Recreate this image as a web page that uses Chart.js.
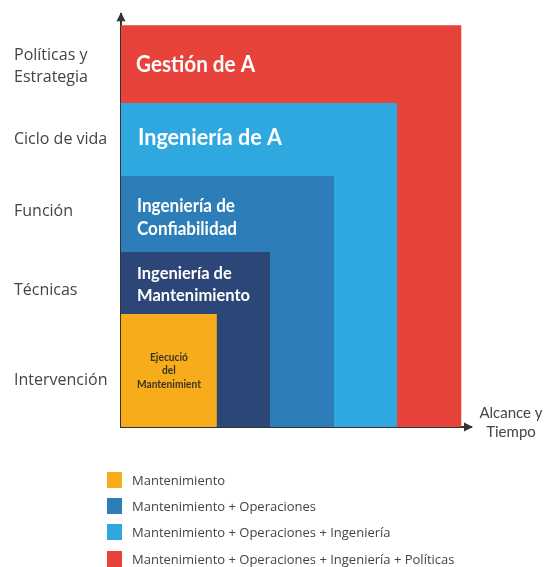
<!DOCTYPE html>
<html>
<head>
<meta charset="utf-8">
<script src="https://cdn.jsdelivr.net/npm/chart.js@4.4.1/dist/chart.umd.min.js"></script>
<style>
  html, body { margin: 0; padding: 0; background: #fff; }
  #wrap { position: relative; width: 546px; height: 567px; }
  #legend { position: absolute; left: 107px; top: 0; font: 13px "Open Sans", sans-serif; color: #444; }
  #legend .sw { position: absolute; left: 0; width: 15px; height: 16px; }
  #legend .tx { position: absolute; left: 25px; line-height: 16px; white-space: nowrap; }
</style>
</head>
<body>
<div id="wrap">
  <canvas id="chart" width="546" height="567"></canvas>
  <div id="legend"></div>
</div>
<script>
// niveles, del más interno al más externo
const niveles = ["Ejecución del Mantenimiento", "Ingeniería de Mantenimiento", "Ingeniería de Confiabilidad", "Ingeniería de A", "Gestión de A"];
const textoNiveles = [["Ejecució", "del", "Mantenimient"], ["Ingeniería de", "Mantenimiento"], ["Ingeniería de", "Confiabilidad"], ["Ingeniería de A"], ["Gestión de A"]];
const alcance = [27.4, 42.6, 60.9, 78.9, 97.3];
const altura = [27.4, 42.4, 60.8, 78.5, 97.3];

const yTickValues = [87.3, 69.7, 52.1, 33.2, 11.4];
const yTickLabels = [["Políticas y", "Estrategia"], "Ciclo de vida", "Función", "Técnicas", "Intervención"];

const legendLabels = ["Mantenimiento", "Mantenimiento + Operaciones", "Mantenimiento + Operaciones + Ingeniería", "Mantenimiento + Operaciones + Ingeniería + Políticas"];

const colores = ["#F7AD1B", "#2B4677", "#2D7DB8", "#2FA7DF", "#E7433A"];
const legendColors = ["#F7AD1B", "#2D7DB8", "#2FA7DF", "#E7433A"];
const legendTops = [472, 498, 524, 551];

// estilo de las etiquetas de cada bloque (desplazamiento desde la esquina sup. izq., ancho de la línea más larga)
const labelStyle = [
  { size: 11, color: "#3d3220", center: true, dy: 47, lh: 13.5, w: 64 },
  { size: 17.5, color: "#fff", dx: 16, dy: 27, lh: 22, w: 113 },
  { size: 18, color: "#fff", dx: 16, dy: 36, lh: 23, w: 100 },
  { size: 22.5, color: "#fff", dx: 17, dy: 42, lh: 24, w: 144 },
  { size: 22.5, color: "#fff", dx: 15, dy: 47, lh: 24, w: 119 }
];

const datasets = niveles.map((n, i) => ({
  label: n,
  data: [{ x: 0, y: altura[i] }, { x: alcance[i], y: altura[i] }],
  backgroundColor: colores[i],
  borderColor: colores[i],
  borderWidth: 0,
  pointRadius: 0,
  fill: "origin",
  tension: 0
}));

const decor = {
  id: "decor",
  afterDatasetsDraw(chart) {
    const { ctx, scales: { x, y } } = chart;
    ctx.save();
    ctx.textBaseline = "alphabetic";
    niveles.forEach((n, i) => {
      const s = labelStyle[i];
      const lines = textoNiveles[i];
      const left = x.getPixelForValue(0);
      const right = x.getPixelForValue(alcance[i]);
      const top = y.getPixelForValue(altura[i]);
      ctx.font = `bold ${s.size}px Lato, sans-serif`;
      ctx.fillStyle = s.color;
      ctx.textAlign = s.center ? "center" : "left";
      const widest = Math.max(...lines.map(l => ctx.measureText(l).width));
      const k = s.w / widest;
      const tx = s.center ? (left + right) / 2 : left + s.dx;
      lines.forEach((line, j) => {
        ctx.save();
        ctx.translate(tx, top + s.dy + j * s.lh);
        ctx.scale(k, 1);
        ctx.fillText(line, 0, 0);
        ctx.restore();
      });
    });
    ctx.restore();
  },
  afterDraw(chart) {
    const { ctx, chartArea: a } = chart;
    ctx.save();
    ctx.fillStyle = "#333";
    ctx.beginPath();
    ctx.moveTo(a.left, a.top - 2);
    ctx.lineTo(a.left - 4.5, a.top + 7);
    ctx.lineTo(a.left + 4.5, a.top + 7);
    ctx.closePath();
    ctx.fill();
    ctx.beginPath();
    ctx.moveTo(a.right + 2, a.bottom);
    ctx.lineTo(a.right - 7, a.bottom - 4.5);
    ctx.lineTo(a.right - 7, a.bottom + 4.5);
    ctx.closePath();
    ctx.fill();
    ctx.font = "15px Lato, sans-serif";
    ctx.fillStyle = "#444";
    ctx.textAlign = "center";
    ctx.textBaseline = "middle";
    ctx.fillText("Alcance y", a.right + 40, a.bottom - 14);
    ctx.fillText("Tiempo", a.right + 40, a.bottom + 5);
    ctx.restore();
  }
};

new Chart(document.getElementById("chart"), {
  type: "line",
  data: { datasets },
  options: {
    responsive: false,
    animation: false,
    layout: { padding: { left: 14, top: 14, right: 75, bottom: 140 } },
    plugins: { legend: { display: false }, tooltip: { enabled: false } },
    scales: {
      x: {
        type: "linear", min: 0, max: 100, z: 1,
        grid: { display: false, drawTicks: false },
        border: { display: true, color: "#333", width: 2 },
        ticks: { display: false },
        afterFit: s => { s.height = 0; }
      },
      y: {
        type: "linear", min: 0, max: 100, z: 1,
        grid: { display: false, drawTicks: false },
        border: { display: true, color: "#333", width: 2 },
        afterBuildTicks: s => { s.ticks = yTickValues.map(v => ({ value: v })); },
        afterFit: s => { s.width = 107; },
        ticks: {
          crossAlign: "far",
          color: "#444",
          font: { family: "'Open Sans', sans-serif", size: 16, lineHeight: 1.4 },
          callback: (v, i) => yTickLabels[i]
        }
      }
    }
  },
  plugins: [decor]
});

const legend = document.getElementById("legend");
legendLabels.forEach((l, i) => {
  const t = legendTops[i];
  legend.insertAdjacentHTML("beforeend",
    `<span class="sw" style="top:${t}px;background:${legendColors[i]}"></span><span class="tx" style="top:${t}px">${l}</span>`);
});
</script>
</body>
</html>
